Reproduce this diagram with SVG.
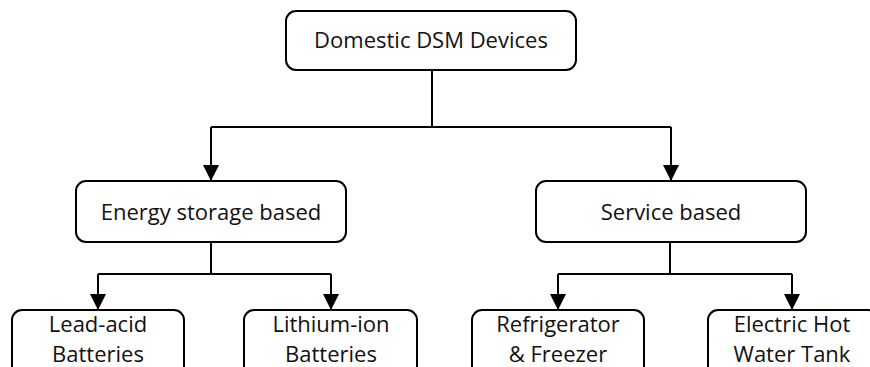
<svg xmlns="http://www.w3.org/2000/svg" width="870" height="367" viewBox="0 0 870 367">
  <defs>
    <style>
      .box { fill: #ffffff; stroke: #000000; stroke-width: 2; }
      .lbl { font-family: "Open Sans", "Liberation Sans", sans-serif; font-size: 22px; fill: #111111; text-anchor: middle; }
      .wire { fill: none; stroke: #000000; stroke-width: 2; }
    </style>
    <marker id="arrow" viewBox="0 0 16 16" markerWidth="16" markerHeight="16" refX="16" refY="8" orient="auto" markerUnits="userSpaceOnUse">
      <path d="M0,0 L16,8 L0,16 Z" fill="#000000"/>
    </marker>
  </defs>
  <rect width="870" height="367" fill="#ffffff"/>

  <g id="connectors">
    <path class="wire" d="M432,70 V127"/>
    <path class="wire" d="M211,127 H671"/>
    <path class="wire" d="M211,127 V181" marker-end="url(#arrow)"/>
    <path class="wire" d="M671,127 V181" marker-end="url(#arrow)"/>
    <path class="wire" d="M211,242 V274"/>
    <path class="wire" d="M98,274 H331"/>
    <path class="wire" d="M98,274 V310" marker-end="url(#arrow)"/>
    <path class="wire" d="M331,274 V310" marker-end="url(#arrow)"/>
    <path class="wire" d="M670,242 V274"/>
    <path class="wire" d="M558,274 H792"/>
    <path class="wire" d="M558,274 V310" marker-end="url(#arrow)"/>
    <path class="wire" d="M792,274 V310" marker-end="url(#arrow)"/>
  </g>

  <g id="domestic-dsm-devices">
    <rect class="box" x="286" y="11" width="290" height="59" rx="10"/>
    <text class="lbl" x="431" y="48">Domestic DSM Devices</text>
  </g>

  <g id="energy-storage-based">
    <rect class="box" x="76" y="181" width="270" height="61" rx="10"/>
    <text class="lbl" x="211" y="220">Energy storage based</text>
  </g>

  <g id="service-based">
    <rect class="box" x="536" y="181" width="270" height="61" rx="10"/>
    <text class="lbl" x="671" y="220">Service based</text>
  </g>

  <g id="lead-acid-batteries">
    <rect class="box" x="12" y="310" width="172" height="70" rx="10"/>
    <text class="lbl" x="98" y="332">Lead-acid</text>
    <text class="lbl" x="98" y="362">Batteries</text>
  </g>

  <g id="lithium-ion-batteries">
    <rect class="box" x="244" y="310" width="173" height="70" rx="10"/>
    <text class="lbl" x="331" y="332">Lithium-ion</text>
    <text class="lbl" x="331" y="362">Batteries</text>
  </g>

  <g id="refrigerator-freezer">
    <rect class="box" x="472" y="310" width="172" height="70" rx="10"/>
    <text class="lbl" x="558" y="332">Refrigerator</text>
    <text class="lbl" x="558" y="362">&amp; Freezer</text>
  </g>

  <g id="electric-hot-water-tank">
    <rect class="box" x="708" y="310" width="170" height="70" rx="10"/>
    <text class="lbl" x="792" y="332">Electric Hot</text>
    <text class="lbl" x="792" y="362">Water Tank</text>
  </g>
</svg>
